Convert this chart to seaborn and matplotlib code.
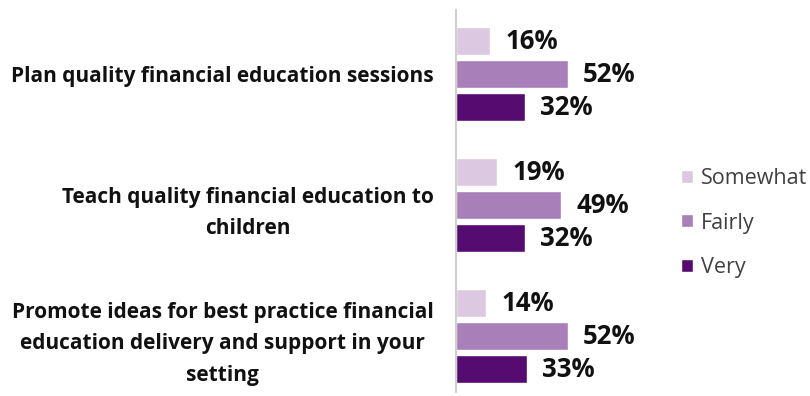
import matplotlib
matplotlib.use("Agg")
import matplotlib.pyplot as plt
import seaborn as sns
import pandas as pd

statements = [
    "Plan quality financial education sessions",
    "Teach quality financial education to\nchildren",
    "Promote ideas for best practice financial\neducation delivery and support in your\nsetting",
]
levels = ["Somewhat", "Fairly", "Very"]
somewhat = [16, 19, 14]
fairly = [52, 49, 52]
very = [32, 32, 33]
palette = ["#DCC9E1", "#A97FBA", "#560B70"]

rows = []
for s, a, b, c in zip(statements, somewhat, fairly, very):
    rows += [(s, "Somewhat", a), (s, "Fairly", b), (s, "Very", c)]
df = pd.DataFrame(rows, columns=["statement", "level", "pct"])

sns.set_theme(style="white")
plt.rcParams["font.family"] = ["Open Sans", "DejaVu Sans"]

fig = plt.figure(figsize=(8.1, 3.96), dpi=100)
ax = fig.add_axes([456 / 810, 1 - 392 / 396, 172 / 810, 382 / 396])

sns.barplot(data=df, y="statement", x="pct", hue="level", hue_order=levels,
            palette=palette, orient="h", width=0.755, gap=0.15,
            saturation=1, ax=ax, legend=True, errorbar=None)

ax.set_xlim(0, 80)
ax.set_ylim(2.427, -0.489)
ax.set_xlabel("")
ax.set_ylabel("")
ax.set_xticks([])
for sp in ["top", "right", "bottom"]:
    ax.spines[sp].set_visible(False)
ax.spines["left"].set_color("#D0D0D0")
ax.spines["left"].set_linewidth(1.5)
ax.tick_params(axis="y", length=0, pad=16)
for lab in ax.get_yticklabels():
    lab.set_fontweight("bold")
    lab.set_fontsize(15)
    lab.set_color("#111111")
    lab.set_multialignment("center")
    lab.set_linespacing(1.65)

for cont in ax.containers:
    ax.bar_label(cont, labels=[f"{v:.0f}%" for v in cont.datavalues],
                 padding=11, fontsize=18.5, fontweight="bold", color="#111111")

handles, labels = ax.get_legend_handles_labels()
ax.legend(handles, labels, loc="center left", bbox_to_anchor=(681 / 810, 1 - 223 / 396),
          bbox_transform=fig.transFigure, frameon=False, fontsize=15.5,
          borderpad=0, borderaxespad=0,
          labelspacing=1.1, handlelength=0.55, handleheight=0.55, handletextpad=0.37,
          labelcolor="#404040")

fig.savefig("out.png", dpi=100)
